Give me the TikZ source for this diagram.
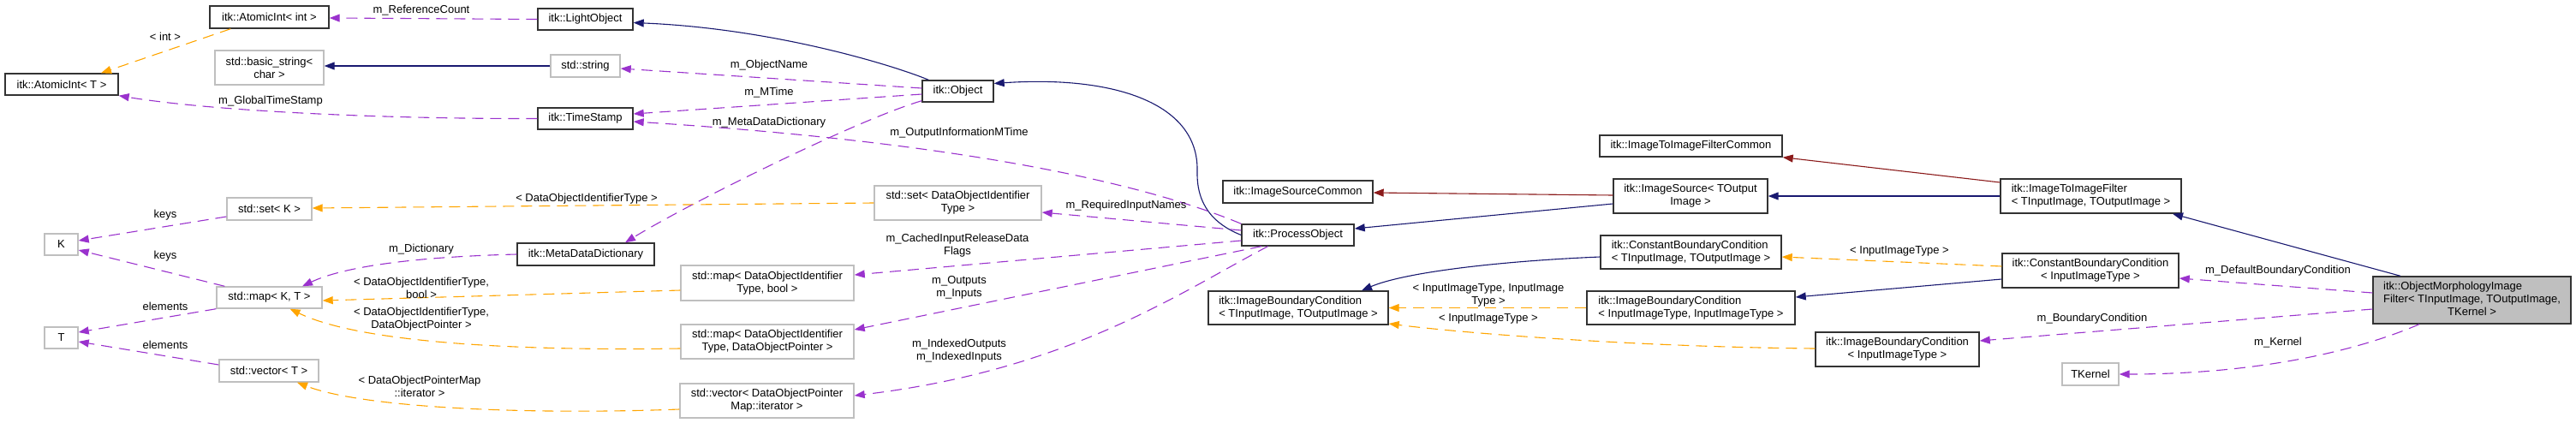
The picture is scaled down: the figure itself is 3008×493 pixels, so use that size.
\documentclass[tikz,border=0pt]{standalone}
\usepackage{fontspec}
\setmainfont{Liberation Sans}
\usetikzlibrary{arrows.meta}
\definecolor{mpurple}{HTML}{9A32CD}
\definecolor{morange}{HTML}{FFA500}
\definecolor{mnavy}{HTML}{191970}
\definecolor{mred}{HTML}{8B1A1A}
\definecolor{boxgray}{HTML}{BFBFBF}
\definecolor{boxblack}{HTML}{333333}
\newcommand\dfont{\fontsize{13}{15}\selectfont}
\tikzset{
  box/.style={draw=boxblack, line width=1.4pt, inner sep=0pt, align=center, font=\dfont},
  lbox/.style={box, align=left},
  gbox/.style={box, draw=boxgray},
  mainbox/.style={draw=boxblack, line width=1.4pt, inner sep=0pt, fill=boxgray, font=\dfont},
  lbl/.style={inner sep=0pt, align=center, font=\dfont},
  tip/.style={-{Triangle[length=12pt,width=9pt]}},
  member/.style={draw=mpurple, line width=1.1pt, dash pattern=on 13pt off 8pt, tip},
  tmpl/.style={draw=morange, line width=1.1pt, dash pattern=on 13pt off 8pt, tip},
  inherit/.style={draw=mnavy, line width=1.1pt, tip},
  pinherit/.style={draw=mred, line width=1.1pt, tip},
}
\begin{document}
\begin{tikzpicture}[x=1pt,y=-1pt]
\useasboundingbox (0,0) rectangle (3008,493);
% ---- nodes ----
\node[box, minimum width=139pt, minimum height=26pt] (aint) at (314.5,20) {itk::AtomicInt< int >};
\node[gbox, minimum width=127pt, minimum height=40pt] (bstr) at (314.5,79) {std::basic\_string<\\char >};
\node[box, minimum width=132pt, minimum height=25pt] (aintT) at (72,98.5) {itk::AtomicInt< T >};
\node[gbox, minimum width=99pt, minimum height=26pt] (setK) at (314.5,244) {std::set< K >};
\node[gbox, minimum width=39pt, minimum height=25pt] (K) at (71.5,285.5) {K};
\node[gbox, minimum width=123pt, minimum height=25pt] (mapKT) at (314.5,347.5) {std::map< K, T >};
\node[gbox, minimum width=39pt, minimum height=25pt] (T) at (71.5,394.5) {T};
\node[gbox, minimum width=116pt, minimum height=26pt] (vecT) at (314,433) {std::vector< T >};
\node[box, minimum width=111pt, minimum height=25pt] (light) at (683.5,22.5) {itk::LightObject};
\node[gbox, minimum width=81pt, minimum height=26pt] (string) at (683.5,77) {std::string};
\node[box, minimum width=111pt, minimum height=25pt] (tstamp) at (683.5,138.5) {itk::TimeStamp};
\node[box, minimum width=160pt, minimum height=26pt] (mdd) at (684,297) {itk::MetaDataDictionary};
\node[gbox, minimum width=202pt, minimum height=41pt] (mapbool) at (896,330.5) {std::map< DataObjectIdentifier\\Type, bool >};
\node[gbox, minimum width=202pt, minimum height=40pt] (mapdop) at (896,399) {std::map< DataObjectIdentifier\\Type, DataObjectPointer >};
\node[gbox, minimum width=203pt, minimum height=40pt] (vecdop) at (895.5,468) {std::vector< DataObjectPointer\\Map::iterator >};
\node[box, minimum width=83pt, minimum height=25pt] (object) at (1118.5,106.5) {itk::Object};
\node[gbox, minimum width=195pt, minimum height=40pt] (setdoit) at (1118.5,237) {std::set< DataObjectIdentifier\\Type >};
\node[box, minimum width=131pt, minimum height=25pt] (po) at (1515.5,274.5) {itk::ProcessObject};
\node[box, minimum width=175pt, minimum height=26pt] (isc) at (1515.5,224) {itk::ImageSourceCommon};
\node[lbox, minimum width=210pt, minimum height=39pt] (ibcTT) at (1516,359.5) {itk::ImageBoundaryCondition\\< TInputImage, TOutputImage >};
\node[box, minimum width=213pt, minimum height=25pt] (i2ifc) at (1974.5,170.5) {itk::ImageToImageFilterCommon};
\node[box, minimum width=180pt, minimum height=40pt] (isrc) at (1974,229) {itk::ImageSource< TOutput\\Image >};
\node[lbox, minimum width=211pt, minimum height=39pt] (cbcTT) at (1974.5,294.5) {itk::ConstantBoundaryCondition\\< TInputImage, TOutputImage >};
\node[lbox, minimum width=243pt, minimum height=39pt] (ibcII) at (1974.5,359.5) {itk::ImageBoundaryCondition\\< InputImageType, InputImageType >};
\node[lbox, minimum width=211pt, minimum height=40pt] (i2if) at (2441.5,229) {itk::ImageToImageFilter\\< TInputImage, TOutputImage >};
\node[box, minimum width=206pt, minimum height=40pt] (cbcI) at (2441,316) {itk::ConstantBoundaryCondition\\< InputImageType >};
\node[box, minimum width=191pt, minimum height=40pt] (ibcI) at (2215.5,408) {itk::ImageBoundaryCondition\\< InputImageType >};
\node[gbox, minimum width=66pt, minimum height=26pt] (tkernel) at (2441,437) {TKernel};
\node[mainbox, minimum width=231pt, minimum height=55pt] (omf) at (2886.5,350.5) {\begin{tabular}{@{}l@{}}itk::ObjectMorphologyImage\\Filter< TInputImage, TOutputImage,\\\multicolumn{1}{@{}c@{}}{TKernel >}\end{tabular}};
% ---- inheritance ----
\draw[inherit] (string.west) -- (string.west -| bstr.east);
\draw[inherit] ([xshift=8pt]object.north west) .. controls (1040,75) and (900,33) .. ([yshift=-4pt]light.east);
\draw[inherit] (po.west) .. controls (1418,262) and (1397,240) .. (1398,200) .. controls (1400,120) and (1300,88) .. ([yshift=9pt]object.east);
\draw[inherit] ([yshift=-9pt]isrc.west) -- ([yshift=7.5pt]po.east);
\draw[inherit] (i2if.west) -- (isrc.east);
\draw[inherit] ([xshift=-83.5pt]omf.north) -- ([xshift=95.5pt]i2if.south);
\draw[inherit] ([yshift=-5.5pt]cbcTT.west) .. controls (1750,305) and (1640,318) .. ([xshift=74pt]ibcTT.north);
\draw[inherit] ([yshift=-10pt]cbcI.west) -- ([yshift=12.5pt]ibcII.east);
\draw[pinherit] ([yshift=1pt]isrc.west) -- ([yshift=-1pt]isc.east);
\draw[pinherit] ([yshift=16pt]i2if.west) -- (i2ifc.south east);
% ---- template instantiations ----
\draw[tmpl] ([xshift=25pt]aint.south west) -- ([xshift=46pt]aintT.north);
\draw[tmpl] (setdoit.west) -- ([yshift=1pt]setK.east);
\draw[tmpl] ([yshift=-8.5pt]mapbool.west) -- ([yshift=-3.5pt]mapKT.east);
\draw[tmpl] ([yshift=-8pt]mapdop.west) .. controls (600,410) and (420,400) .. ([xshift=24pt]mapKT.south);
\draw[tmpl] ([yshift=-10pt]vecdop.west) .. controls (600,485) and (420,475) .. ([xshift=33pt]vecT.south);
\draw[tmpl] (ibcII.west) -- (ibcTT.east);
\draw[tmpl] ([yshift=1pt]ibcI.west) .. controls (1900,405) and (1700,388) .. ([yshift=-18.5pt]ibcTT.east);
\draw[tmpl] ([yshift=5pt]cbcI.west) -- ([yshift=-5.5pt]cbcTT.east);
% ---- members ----
\draw[member] (light.west) -- ([yshift=-1pt]aint.east);
\draw[member] (tstamp.west) .. controls (450,139) and (250,130) .. (aintT.south east);
\draw[member] ([yshift=3.5pt]object.west) -- ([yshift=-3pt]string.east);
\draw[member] ([yshift=-3.5pt]object.west) -- ([yshift=5.5pt]tstamp.east);
\draw[member] ([yshift=2pt]object.south west) .. controls (1000,140) and (800,240) .. ([xshift=46pt]mdd.north);
\draw[member] (po.north west) .. controls (1350,220) and (1150,168) .. ([yshift=-3.5pt]tstamp.east);
\draw[member] ([yshift=5.5pt]po.west) -- ([yshift=-11pt]setdoit.east);
\draw[member] ([yshift=-6.5pt]po.west) -- ([yshift=9.5pt]mapbool.east);
\draw[member] ([xshift=-42.5pt]po.south) -- ([yshift=14pt]mapdop.east);
\draw[member] ([xshift=-35pt]po.south) .. controls (1380,340) and (1250,432) .. ([yshift=6pt]vecdop.east);
\draw[member] (mdd.west) .. controls (480,300) and (400,312) .. ([xshift=38.5pt]mapKT.north);
\draw[member] ([yshift=-9pt]setK.west) -- ([yshift=4.5pt]K.east);
\draw[member] ([xshift=10pt]mapKT.north west) -- ([yshift=-6.5pt]K.east);
\draw[member] (mapKT.south west) -- ([yshift=6.5pt]T.east);
\draw[member] ([yshift=7pt]vecT.west) -- ([yshift=-4.5pt]T.east);
\draw[member] ([yshift=8.5pt]omf.west) -- ([yshift=-9pt]cbcI.east);
\draw[member] ([yshift=-10.5pt]omf.west) -- ([yshift=10pt]ibcI.east);
\draw[member] ([xshift=-61.5pt]omf.south) .. controls (2740,415) and (2620,437) .. (tkernel.east);
% ---- labels ----
\node[lbl] (l1) at (492,12) {m\_ReferenceCount};
\node[lbl] (l2) at (193,43) {< int >};
\node[lbl] (l3) at (316,118) {m\_GlobalTimeStamp};
\node[lbl] (l4) at (193,251) {keys};
\node[lbl] (l5) at (193,299) {keys};
\node[lbl] (l6) at (193,358) {elements};
\node[lbl] (l7) at (193,403) {elements};
\node[lbl] (l8) at (898,76) {m\_ObjectName};
\node[lbl] (l9) at (898,108) {m\_MTime};
\node[lbl] (l10) at (898,143) {m\_MetaDataDictionary};
\node[lbl] (l11) at (685,232) {< DataObjectIdentifierType >};
\node[lbl] (l12) at (492,291) {m\_Dictionary};
\node[lbl] (l13) at (492,336) {< DataObjectIdentifierType,\\bool >};
\node[lbl] (l14) at (492,372.5) {< DataObjectIdentifierType,\\DataObjectPointer >};
\node[lbl] (l15) at (490,451) {< DataObjectPointerMap\\::iterator >};
\node[lbl] (l16) at (1120,155) {m\_OutputInformationMTime};
\node[lbl] (l17) at (1315,240) {m\_RequiredInputNames};
\node[lbl] (l18) at (1118,287) {m\_CachedInputReleaseData\\Flags};
\node[lbl] (l19) at (1120,336) {m\_Outputs\\m\_Inputs};
\node[lbl] (l20) at (1120,410) {m\_IndexedOutputs\\m\_IndexedInputs};
\node[lbl] (l21) at (1738,344.5) {< InputImageType, InputImage\\Type >};
\node[lbl] (l22) at (1738,372) {< InputImageType >};
\node[lbl] (l23) at (2218,293) {< InputImageType >};
\node[lbl] (l24) at (2443,372) {m\_BoundaryCondition};
\node[lbl] (l25) at (2660,316) {m\_DefaultBoundaryCondition};
\node[lbl] (l26) at (2660,400) {m\_Kernel};
\end{tikzpicture}
\end{document}
